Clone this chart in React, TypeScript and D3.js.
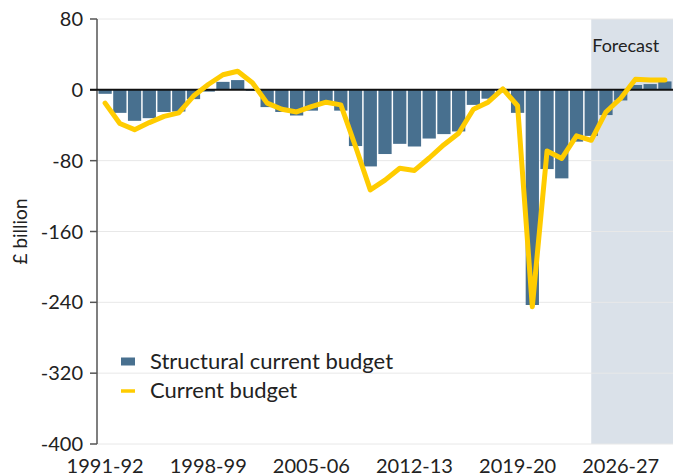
import React from "react";
import * as d3 from "d3";

// financial years shown on the x axis
const years = [
  "1991-92", "1992-93", "1993-94", "1994-95", "1995-96", "1996-97", "1997-98", "1998-99",
  "1999-00", "2000-01", "2001-02", "2002-03", "2003-04", "2004-05", "2005-06", "2006-07",
  "2007-08", "2008-09", "2009-10", "2010-11", "2011-12", "2012-13", "2013-14", "2014-15",
  "2015-16", "2016-17", "2017-18", "2018-19", "2019-20", "2020-21", "2021-22", "2022-23",
  "2023-24", "2024-25", "2025-26", "2026-27", "2027-28", "2028-29", "2029-30",
];

// £ billion
const structuralBudget = [
  -4.5, -26, -35, -32, -25, -24.5, -10.5, -2, 9, 11, -1, -19.5, -25, -29, -23.5, -16,
  -23.5, -63.5, -86.5, -72.5, -61, -64, -55, -50, -47, -17, -10, -3, -26, -243,
  -89.5, -100, -58.5, -52, -28.5, -12, 5.5, 6.5, 9.5,
];

const currentBudget = [
  -15, -38, -45, -37, -30, -26, -7, 6, 17, 21, 8, -15, -22, -25, -19, -14,
  -17, -64, -113, -102, -88.5, -91, -77, -62, -49, -22, -14, 1, -18, -245,
  -69, -77.5, -52, -57, -25, -9.5, 12, 11, 11,
];

const xTickLabels = ["1991-92", "1998-99", "2005-06", "2012-13", "2019-20", "2026-27"];
const yTicks = [80, 0, -80, -160, -240, -320, -400];
const forecastStart = "2024-25";

const width = 678;
const height = 476;
const margin = { top: 19, right: 5, bottom: 32, left: 97 };

const barColor = "#48708f";
const lineColor = "#ffcc00";
const font = "Lato, 'Open Sans', sans-serif";

export default function App() {
  const x = d3
    .scaleBand<string>()
    .domain(years)
    .range([margin.left, width - margin.right])
    .padding(0.1);

  const y = d3
    .scaleLinear()
    .domain([-400, 80])
    .range([height - margin.bottom, margin.top]);

  const cx = (yr: string) => (x(yr) as number) + x.bandwidth() / 2;

  const line = d3
    .line<number>()
    .x((_, i) => cx(years[i]))
    .y((d) => y(d));

  const right = width - margin.right;
  const fx = cx(forecastStart);

  return (
    <div>
      <style>{`body{margin:0}`}</style>
      <svg width={width} height={height} style={{ display: "block" }} fontFamily={font}>
        {/* forecast shading */}
        <rect x={fx} y={y(80)} width={right - fx} height={y(-400) - y(80)} fill="#dae1e9" />
        <text x={fx + 1} y={52} fontSize={18} fill="#222">
          Forecast
        </text>

        {/* grid */}
        {yTicks
          .filter((t) => t !== 0)
          .map((t) => (
            <line key={t} x1={margin.left} x2={right} y1={y(t)} y2={y(t)} stroke="#e8e8e8" strokeWidth={1} />
          ))}

        {/* bars */}
        {structuralBudget.map((v, i) => (
          <rect
            key={years[i]}
            x={x(years[i])}
            width={x.bandwidth()}
            y={y(Math.max(0, v))}
            height={Math.abs(y(v) - y(0))}
            fill={barColor}
          />
        ))}

        {/* y axis */}
        <line x1={margin.left} x2={margin.left} y1={y(80)} y2={y(-400)} stroke="#555" strokeWidth={1.5} />
        {yTicks.map((t) => (
          <g key={t}>
            <line x1={margin.left - 7} x2={margin.left} y1={y(t)} y2={y(t)} stroke="#555" strokeWidth={1.5} />
            <text x={margin.left - 14} y={y(t)} dy="0.35em" textAnchor="end" fontSize={20} fill="#222">
              {t}
            </text>
          </g>
        ))}
        <line x1={margin.left - 7} x2={right} y1={y(0)} y2={y(0)} stroke="#111" strokeWidth={2} />

        <text
          transform={`translate(27,${(y(80) + y(-400)) / 2}) rotate(-90)`}
          textAnchor="middle"
          fontSize={19}
          fill="#222"
        >
          £ billion
        </text>

        {/* current budget line */}
        <path
          d={line(currentBudget) || ""}
          fill="none"
          stroke={lineColor}
          strokeWidth={5}
          strokeLinejoin="round"
          strokeLinecap="round"
        />

        {/* x labels */}
        {xTickLabels.map((l) => (
          <text key={l} x={cx(l)} y={473} textAnchor="middle" fontSize={20} fill="#222">
            {l}
          </text>
        ))}

        {/* legend */}
        <rect x={121} y={357.5} width={14} height={8} fill={barColor} />
        <text x={150} y={369} fontSize={22} fill="#222">
          Structural current budget
        </text>
        <line x1={121} x2={135} y1={391} y2={391} stroke={lineColor} strokeWidth={3.5} />
        <text x={150} y={398} fontSize={22} fill="#222">
          Current budget
        </text>
      </svg>
    </div>
  );
}
